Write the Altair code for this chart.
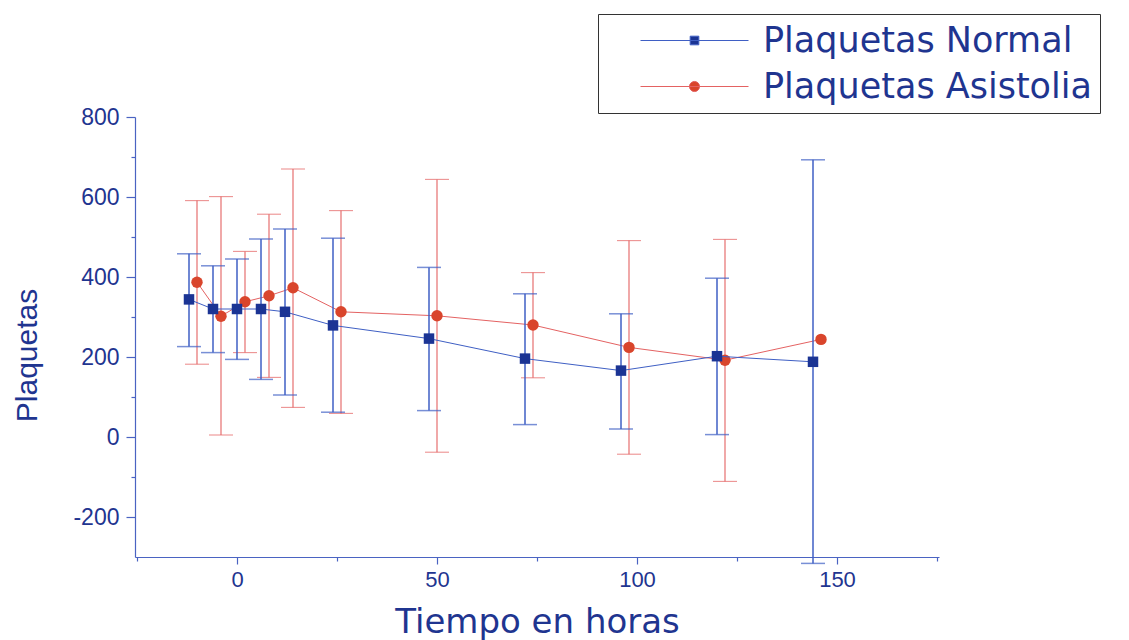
import altair as alt
import pandas as pd

# ---- data ----
hours_normal = [-12, -6, 0, 6, 12, 24, 48, 72, 96, 120, 144]
mean_normal = [344, 320, 320, 320, 313, 279, 246, 196, 166, 202, 188]
upper_normal = [458, 428, 445, 495, 520, 497, 424, 358, 308, 397, 693]
lower_normal = [226, 211, 194, 144, 105, 62, 66, 31, 20, 6, -316]

hours_asis = [-10, -4, 2, 8, 14, 26, 50, 74, 98, 122, 146]
mean_asis = [387, 302, 338, 353, 373, 313, 303, 280, 224, 192, 244]
upper_asis = [591, 601, 464, 557, 670, 566, 644, 411, 491, 494, None]
lower_asis = [182, 5, 211, 149, 74, 59, -38, 148, -43, -111, None]

series_names = ["Plaquetas Normal", "Plaquetas Asistolia"]
x_tick_values = [-25, 0, 25, 50, 75, 100, 125, 150, 175]
y_tick_values = [-200, -100, 0, 100, 200, 300, 400, 500, 600, 700, 800]

# ---- styling ----
NAVY = "#1b3494"
BLUE_LINE = "#3f5fc4"
RED_DOT = "#d9452c"
RED_LINE = "#e46262"
AXIS_BLUE = "#4a63c2"
TEXT_BLUE = "#1f3590"

df_n = pd.DataFrame({"serie": series_names[0], "t": hours_normal, "v": mean_normal,
                     "hi": upper_normal, "lo": lower_normal})
df_a = pd.DataFrame({"serie": series_names[1], "t": hours_asis, "v": mean_asis,
                     "hi": upper_asis, "lo": lower_asis})
df_all = pd.concat([df_n, df_a], ignore_index=True)

xscale = alt.Scale(domain=[-25.5, 175.5], nice=False, zero=False)
yscale = alt.Scale(domain=[-300, 800], nice=False, zero=False)

xaxis = alt.Axis(
    values=x_tick_values,
    labelExpr="datum.value % 50 == 0 ? '' + datum.value : ''",
    tickSize={"condition": {"test": "datum.value % 50 != 0", "value": 4}, "value": 7},
    domainColor=AXIS_BLUE, tickColor=AXIS_BLUE, domainWidth=1.2, tickWidth=1.2,
    labelFont="Liberation Sans", labelFontSize=22, labelColor=TEXT_BLUE, labelPadding=5,
    grid=False, title="Tiempo en horas", titleFont="DejaVu Sans", titleFontSize=34,
    titleFontWeight="normal", titleColor=TEXT_BLUE, titleBaseline="alphabetic",
    titleY=75,
)
yaxis = alt.Axis(
    values=y_tick_values,
    labelExpr="datum.value % 200 == 0 ? '' + datum.value : ''",
    tickSize={"condition": {"test": "datum.value % 200 != 0", "value": 4}, "value": 9},
    domainColor=AXIS_BLUE, tickColor=AXIS_BLUE, domainWidth=1.2, tickWidth=1.2,
    labelFont="Liberation Sans", labelFontSize=23, labelColor=TEXT_BLUE, labelPadding=7,
    grid=False, title="Plaquetas", titleFont="Liberation Sans", titleFontSize=30,
    titleFontWeight="normal", titleColor=TEXT_BLUE, titleAngle=270,
    titleAlign="center", titleBaseline="middle", titleX=-108, titleY=238,
)


def layers(df, line_color, dot_color, shape, size, bar_width):
    base = alt.Chart(df)
    line = base.mark_line(color=line_color, strokeWidth=1).encode(
        x=alt.X("t:Q", scale=xscale, axis=xaxis), y=alt.Y("v:Q", scale=yscale, axis=yaxis))
    ebars = base.transform_filter("isValid(datum.hi)")
    rule = ebars.mark_rule(color=line_color, strokeWidth=bar_width).encode(
        x="t:Q", y="lo:Q", y2="hi:Q")
    cap_hi = ebars.mark_tick(color=line_color, orient="horizontal", size=24,
                             thickness=bar_width).encode(x="t:Q", y="hi:Q")
    cap_lo = ebars.mark_tick(color=line_color, orient="horizontal", size=24,
                             thickness=bar_width).encode(x="t:Q", y="lo:Q")
    pts = base.mark_point(shape=shape, filled=True, color=dot_color, size=size,
                          opacity=1).encode(x="t:Q", y="v:Q")
    return [line, rule, cap_hi, cap_lo, pts]


# legend symbols: a line with the series marker in the middle
sq_path = "M-3,0H3M-0.24,-0.24H0.24V0.24H-0.24Z"
ci_path = "M-3,0H3M0.28,0A0.28,0.28 0 1,1 -0.28,0A0.28,0.28 0 1,1 0.28,0Z"

leg = alt.Legend(
    title=None, orient="none", legendX=463, legendY=-103, direction="vertical",
    labelFont="DejaVu Sans", labelFontSize=35, labelColor=TEXT_BLUE, labelLimit=500,
    symbolSize=1296, symbolStrokeWidth=1, symbolOffset=70, labelOffset=50,
    symbolOpacity=1, padding=8, rowPadding=9, strokeColor="#333333", fillColor="white",
)

legend_layer = alt.Chart(df_all).transform_filter("false").mark_point(
    filled=True, opacity=1).encode(
    x="t:Q", y="v:Q",
    shape=alt.Shape("serie:N", scale=alt.Scale(domain=series_names, range=[sq_path, ci_path]), legend=leg),
    fill=alt.Fill("serie:N", scale=alt.Scale(domain=series_names, range=[NAVY, RED_DOT]), legend=leg),
    stroke=alt.Stroke("serie:N", scale=alt.Scale(domain=series_names, range=[BLUE_LINE, RED_LINE]), legend=leg),
)

chart = alt.layer(
    *layers(df_a, RED_LINE, RED_DOT, "circle", 130, 1.1),
    *layers(df_n, BLUE_LINE, NAVY, "square", 110, 1.5),
    legend_layer,
).properties(
    width=804, height=440,
    padding={"left": 135, "top": 117, "right": 190, "bottom": 83},
    autosize=alt.AutoSizeParams(type="none"),
    background="white",
).configure_view(stroke=None)

chart.save("out.html", embed_options={"renderer": "svg", "actions": False})
